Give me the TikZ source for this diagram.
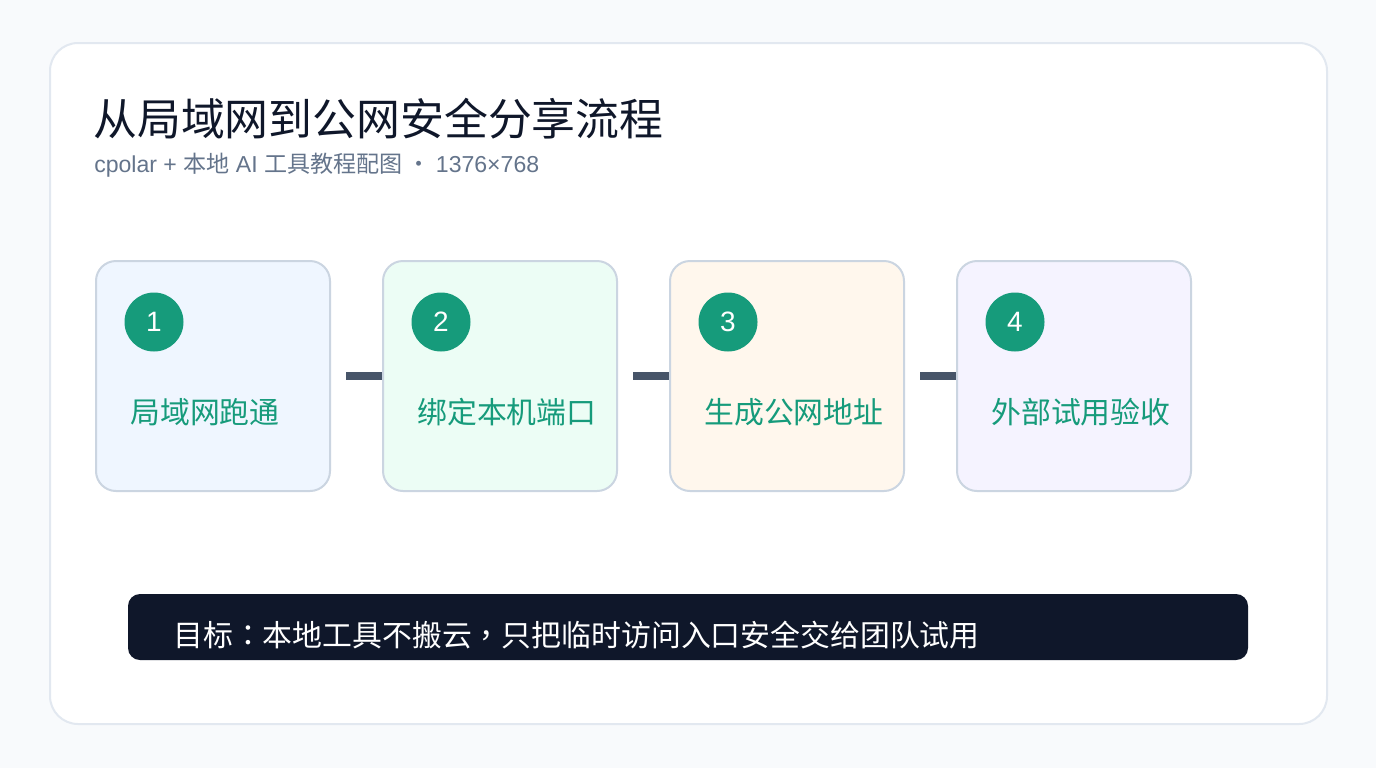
\documentclass[tikz,border=0pt]{standalone}
\usepackage{fontspec}
\setmainfont{Noto Sans CJK SC}
\newfontfamily\latinfont{Liberation Sans}
\newfontfamily\punctfont{Noto Sans CJK TC}
\usepackage{tikz}
\usetikzlibrary{positioning,calc}
\definecolor{pagebg}{HTML}{F8FAFC}
\definecolor{cardline}{HTML}{E2E8F0}
\definecolor{boxline}{HTML}{CBD5E1}
\definecolor{fillblue}{HTML}{EFF6FF}
\definecolor{fillmint}{HTML}{ECFDF5}
\definecolor{fillsand}{HTML}{FFF7ED}
\definecolor{filllilac}{HTML}{F5F3FF}
\definecolor{stepgreen}{HTML}{169B7B}
\definecolor{linkgray}{HTML}{475569}
\definecolor{barnavy}{HTML}{0F172A}
\definecolor{subgray}{HTML}{64748B}
\tikzset{stepbox/.style={draw=boxline,line width=1.5pt,rounded corners=15pt,minimum width=175.5pt,minimum height=172.5pt,inner sep=0pt}}
\tikzset{badge/.style={circle,fill=stepgreen,minimum size=44.25pt,inner sep=0pt,text=white,font=\latinfont\fontsize{21}{24}\selectfont}}
\tikzset{steplabel/.style={anchor=west,inner sep=0pt,text=stepgreen,font=\fontsize{22.4}{26}\selectfont}}
\tikzset{link/.style={draw=linkgray,line width=6pt,shorten <=11.25pt}}

\begin{document}
\begin{tikzpicture}[x=0.75pt,y=-0.75pt]

	%% Page and card
	\useasboundingbox[fill=pagebg] (0,0) rectangle (1376,768);
	\draw[fill=white,draw=cardline,line width=1.5pt,rounded corners=21pt] (50,43) rectangle (1327,724);
	%%

	\node[anchor=west,inner sep=0pt,text=barnavy,font=\fontsize{32.9}{38}\selectfont] (title) at (93,119) {从局域网到公网安全分享流程};
	\node[anchor=west,inner sep=0pt,text=subgray,font=\fontsize{17.3}{20}\selectfont] (subtitle) at (94,165) {{\latinfont cpolar + }本地{\latinfont\ AI }工具教程配图 · {\latinfont 1376×768}};

	%% Steps
	\node[stepbox,fill=fillblue] (s1) at (213,376) {};
	\node[stepbox,fill=fillmint] (s2) at (500,376) {};
	\node[stepbox,fill=fillsand] (s3) at (787,376) {};
	\node[stepbox,fill=filllilac] (s4) at (1074,376) {};

	\node[badge] (b1) at (154,322) {1};
	\node[badge] (b2) at (441,322) {2};
	\node[badge] (b3) at (728,322) {3};
	\node[badge] (b4) at (1015,322) {4};

	\node[steplabel] (t1) at (130,412) {局域网跑通};
	\node[steplabel] (t2) at (417,412) {绑定本机端口};
	\node[steplabel] (t3) at (704,412) {生成公网地址};
	\node[steplabel] (t4) at (991,412) {外部试用验收};

	\draw[link] (s1.east) -- (s2.west);
	\draw[link] (s2.east) -- (s3.west);
	\draw[link] (s3.east) -- (s4.west);

	%% Goal bar
	\fill[barnavy,rounded corners=9pt] (128,594) rectangle (1248,660);
	\node[anchor=west,inner sep=0pt,text=white,font=\fontsize{22.4}{26}\selectfont] (goal) at (173,635) {目标{\punctfont ：}本地工具不搬云{\punctfont ，}只把临时访问入口安全交给团队试用};

\end{tikzpicture}
\end{document}
